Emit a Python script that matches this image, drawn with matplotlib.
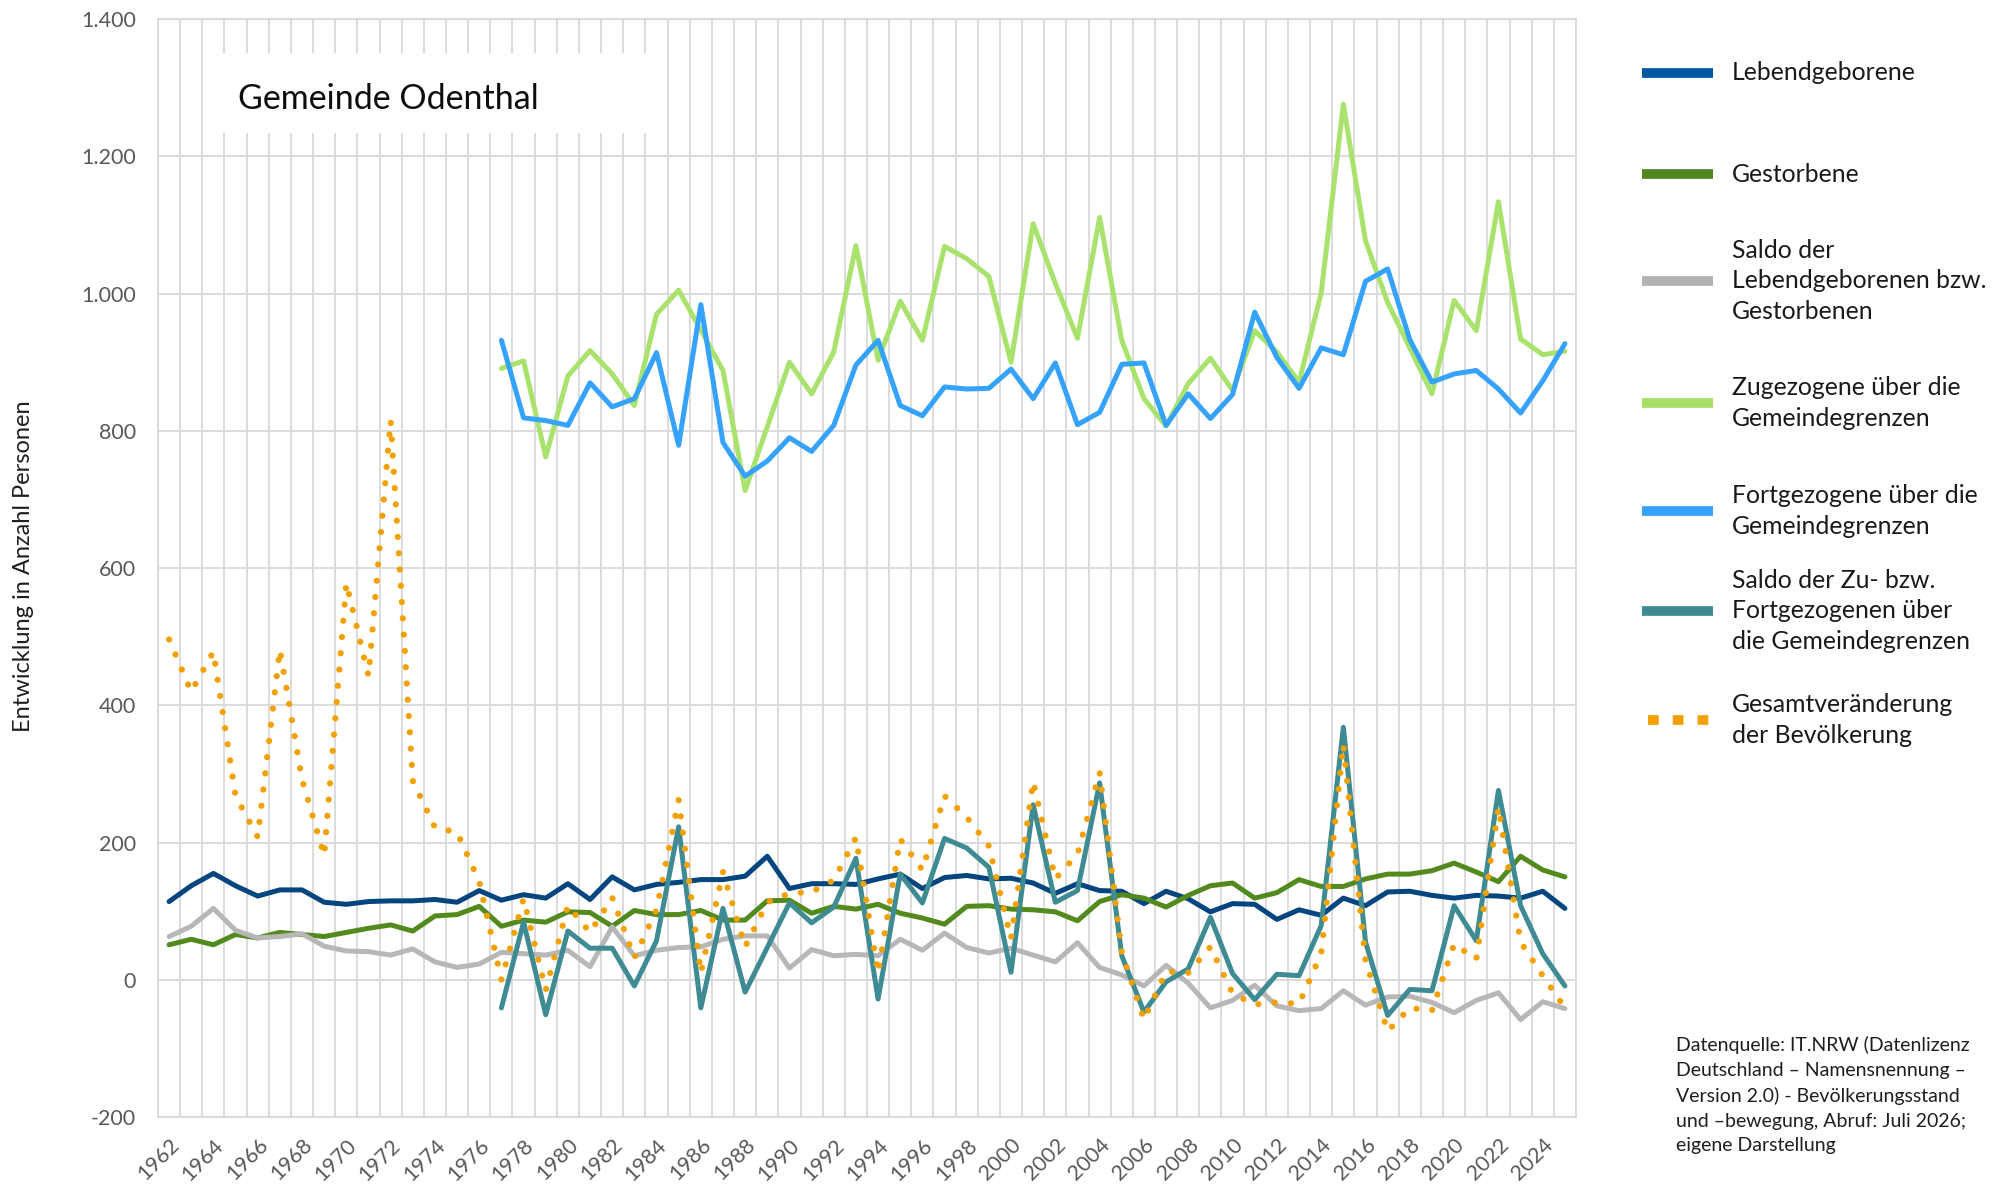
import numpy as np
import matplotlib
matplotlib.use('Agg')
from matplotlib import pyplot as plt
from matplotlib.lines import Line2D
from matplotlib.patches import Rectangle

plt.rcParams['font.family'] = ['Lato', 'DejaVu Sans']

years = list(range(1962, 2026))

# Werte 1962-2025
lebendgeborene = [114, 137, 155, 137, 122, 131, 131, 113, 110, 114, 115, 115, 117, 113, 130,
                  116, 124, 119, 140, 117, 150, 131, 139, 142, 146, 146, 151, 180, 133, 140,
                  140, 139, 147, 154, 133, 149, 152, 147, 148, 141, 126, 140, 130, 129, 111,
                  129, 118, 99, 111, 110, 88, 102, 94, 119, 108, 128, 129, 123, 119, 123,
                  122, 119, 129, 104]
gestorbene = [51, 59, 51, 66, 61, 69, 66, 63, 69, 75, 80, 71, 93, 95, 107,
              78, 87, 84, 99, 98, 78, 101, 95, 95, 101, 87, 87, 115, 116, 97,
              107, 103, 110, 97, 90, 81, 107, 108, 103, 102, 99, 86, 114, 124, 119,
              106, 123, 137, 141, 119, 127, 146, 136, 136, 147, 154, 154, 159, 170, 157,
              143, 180, 160, 150]
saldo_natuerlich = [63, 78, 104, 72, 61, 63, 67, 49, 42, 41, 36, 45, 26, 18, 23,
                    40, 38, 36, 43, 19, 77, 35, 43, 47, 48, 59, 64, 64, 17, 44,
                    35, 37, 35, 59, 43, 68, 47, 39, 46, 36, 26, 54, 18, 7, -9,
                    21, -5, -41, -30, -8, -38, -45, -42, -16, -37, -25, -24, -33, -48, -30,
                    -19, -58, -32, -42]
gesamt = [496, 420, 478, 268, 208, 481, 292, 181, 578, 443, 815, 290, 222, 215, 143,
          0, 118, -15, 108, 69, 120, 32, 102, 262, 10, 157, 48, 113, 126, 128,
          145, 207, 10, 205, 160, 268, 237, 195, 60, 289, 147, 183, 302, 40, -58,
          12, 10, 48, -20, -36, -33, -35, 38, 343, 28, -75, -41, -45, 52, 30,
          251, 55, 6, -41]

# Wanderungsdaten erst ab 1977
wander_jahre = list(range(1977, 2026))
zugezogene = [891, 902, 762, 880, 917, 883, 837, 970, 1005, 947, 888, 713, 806, 900, 854,
              915, 1070, 903, 989, 932, 1069, 1051, 1025, 900, 1102, 1015, 935, 1111, 932, 847,
              807, 869, 906, 859, 946, 915, 871, 1001, 1276, 1077, 987, 921, 854, 990, 946,
              1134, 934, 911, 916]
fortgezogene = [932, 819, 815, 808, 870, 835, 847, 914, 779, 984, 783, 734, 756, 790, 770,
                808, 896, 932, 837, 822, 864, 861, 862, 890, 847, 899, 809, 827, 897, 899,
                808, 854, 818, 853, 973, 907, 862, 921, 911, 1018, 1036, 933, 871, 883, 888,
                861, 826, 873, 927]
saldo_wanderung = [-41, 84, -51, 71, 46, 46, -9, 57, 223, -41, 104, -18, 47, 112, 83,
                   106, 177, -28, 154, 112, 206, 192, 164, 11, 255, 113, 130, 287, 35, -47,
                   -3, 16, 91, 9, -29, 8, 6, 79, 368, 55, -52, -14, -16, 108, 57,
                   276, 108, 38, -9]

labels = ['Lebendgeborene', 'Gestorbene',
          'Saldo der\nLebendgeborenen bzw.\nGestorbenen',
          'Zugezogene über die\nGemeindegrenzen',
          'Fortgezogene über die\nGemeindegrenzen',
          'Saldo der Zu- bzw.\nFortgezogenen über\ndie Gemeindegrenzen',
          'Gesamtveränderung\nder Bevölkerung']
colors = ['#02457F', '#538A1E', '#B7B7B7', '#A9E26C', '#35A2FD', '#3F8B93', '#F2A100']
legend_colors = ['#0058A0', '#4F861D', '#B2B2B2', '#A6E066', '#35A2FD', '#3E8A92', '#F2A100']

x_all = np.arange(len(years))
x_w = np.array([years.index(j) for j in wander_jahre])

fig = plt.figure(figsize=(20.04, 11.86), dpi=100)
ax = fig.add_axes([0.07884, 0.05818, 0.70758, 0.92563])

lw = 3.6
kw = dict(lw=lw, solid_joinstyle='round', solid_capstyle='round', zorder=3)
ax.plot(x_all, lebendgeborene, color=colors[0], **kw)
ax.plot(x_all, gestorbene, color=colors[1], **kw)
ax.plot(x_all, saldo_natuerlich, color=colors[2], **kw)
ax.plot(x_w, zugezogene, color=colors[3], **kw)
ax.plot(x_w, fortgezogene, color=colors[4], **kw)
ax.plot(x_w, saldo_wanderung, color=colors[5], **kw)
ax.plot(x_all, gesamt, color=colors[6], lw=4.5, linestyle=(0, (0.01, 2.6)),
        dash_capstyle='round', zorder=4)

ax.set_xlim(-0.5, len(years) - 0.5)
ax.set_ylim(-200, 1400)
ax.set_yticks(range(-200, 1401, 200))
ax.set_yticklabels([f'{v:,}'.replace(',', '.') for v in range(-200, 1401, 200)])
ax.set_xticks(x_all[::2])
ax.set_xticklabels(years[::2], rotation=45, ha='right', va='top', rotation_mode='anchor')
ax.set_xticks(np.arange(-0.5, len(years), 1), minor=True)
ax.tick_params(which='both', length=0, labelsize=15.5, labelcolor='#595959')
ax.tick_params(axis='y', pad=16)
ax.tick_params(axis='x', pad=13)
ax.set_axisbelow(True)
ax.grid(axis='y', which='major', color='#D9D9D9', lw=1.3)
ax.grid(axis='x', which='minor', color='#D9D9D9', lw=1.3)
for s in ax.spines.values():
    s.set_color('#D9D9D9')
    s.set_linewidth(1.3)

# Titelkasten
ax.add_patch(Rectangle((0.0367, 0.8963), 0.3138, 0.0729, transform=ax.transAxes,
                       facecolor='white', edgecolor='none', zorder=2))
ax.text(0.0564, 0.9182, 'Gemeinde Odenthal', transform=ax.transAxes, fontsize=24.5,
        color='#0D0D0D', va='baseline', ha='left', zorder=5)

fig.text(24 / 2004, 1 - 566 / 1186, 'Entwicklung in Anzahl Personen', rotation=90,
         va='center', ha='center', fontsize=17, color='#1F1F1F')

# Legende
leg_y = [73, 174, 281, 403, 511, 611, 720]
for lab, c, yy in zip(labels, legend_colors, leg_y):
    yf = 1 - yy / 1186
    if lab.startswith('Gesamt'):
        fig.add_artist(Line2D([0.8224, 0.8530], [yf, yf], transform=fig.transFigure,
                              color=c, lw=7, linestyle=(0, (1.1, 1.45)), dash_capstyle='butt'))
    else:
        fig.add_artist(Line2D([0.8194, 0.8548], [yf, yf], transform=fig.transFigure,
                              color=c, lw=7, solid_capstyle='butt'))
    fig.text(0.8643, yf, lab, fontsize=17.8, va='center', ha='left', color='#1A1A1A',
             linespacing=1.42)

fig.text(0.8363, 1 - 1095 / 1186,
         'Datenquelle: IT.NRW (Datenlizenz\nDeutschland – Namensnennung –\n'
         'Version 2.0) - Bevölkerungsstand\nund –bewegung, Abruf: Juli 2026;\n'
         'eigene Darstellung',
         fontsize=14, va='center', ha='left', color='#1F1F1F', linespacing=1.55)

fig.savefig('out.png', dpi=100)
